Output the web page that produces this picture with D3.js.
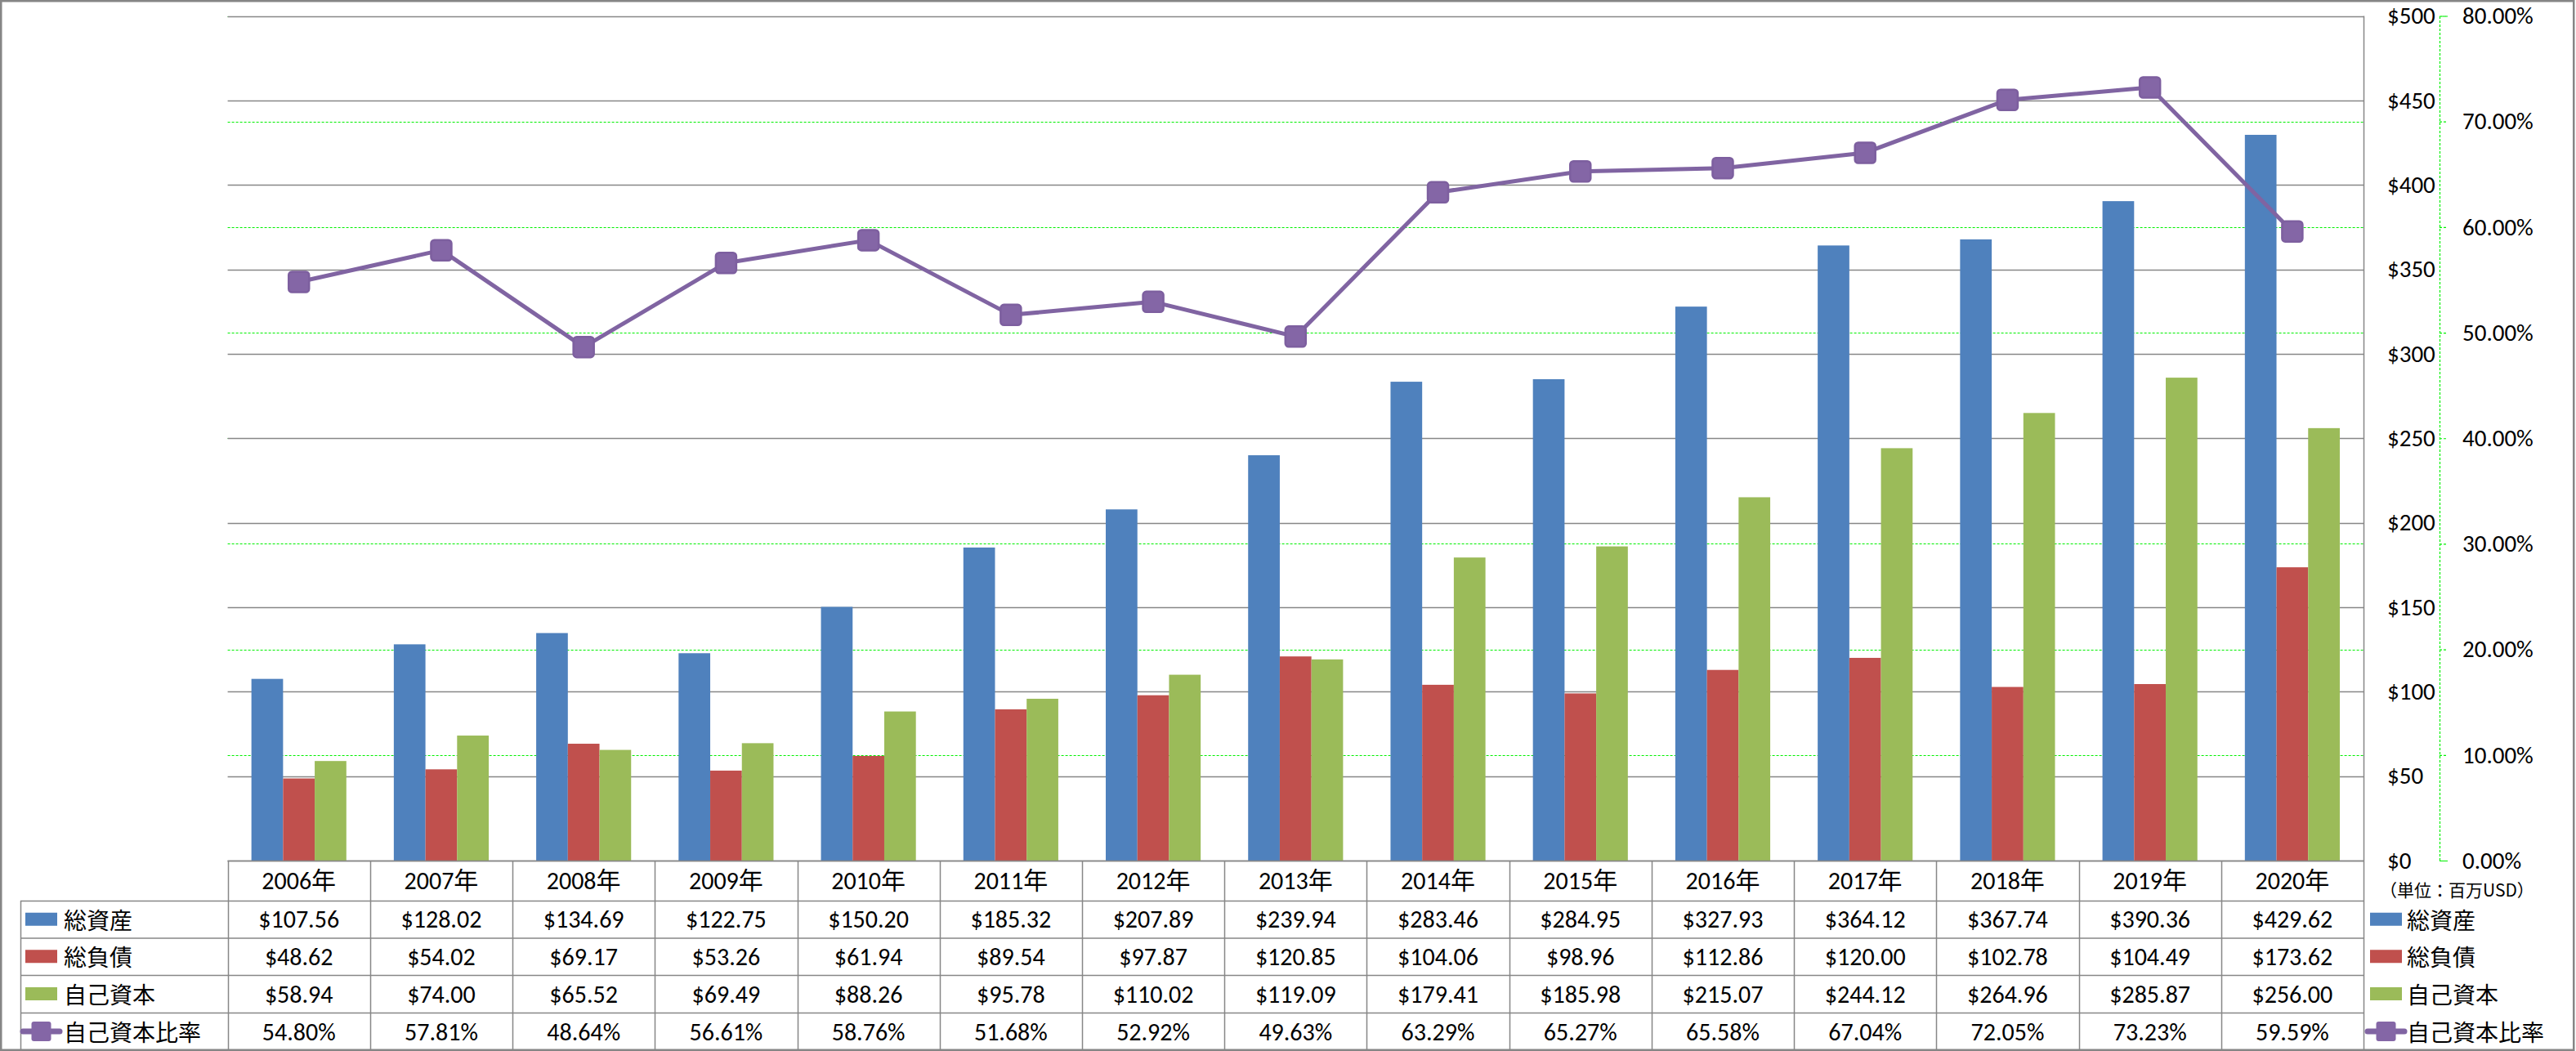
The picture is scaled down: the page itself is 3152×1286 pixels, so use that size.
<!DOCTYPE html>
<html>
<head>
<meta charset="utf-8">
<script src="https://cdn.jsdelivr.net/npm/d3@7"></script>
<style>
  html, body { margin: 0; padding: 0; background: #fff; }
  svg { display: block; }
  text { font-family: Carlito, Lato, "Noto Sans CJK JP", sans-serif; fill: #000; }
</style>
</head>
<body>
<svg id="chart" width="3152" height="1286"></svg>
<script>
// ---- data ----
const categories = ["2006年","2007年","2008年","2009年","2010年","2011年","2012年","2013年","2014年","2015年","2016年","2017年","2018年","2019年","2020年"];
const seriesNames = ["総資産","総負債","自己資本"];
const lineName = "自己資本比率";
const totalAssets = [107.56,128.02,134.69,122.75,150.20,185.32,207.89,239.94,283.46,284.95,327.93,364.12,367.74,390.36,429.62];
const totalLiabilities = [48.62,54.02,69.17,53.26,61.94,89.54,97.87,120.85,104.06,98.96,112.86,120.00,102.78,104.49,173.62];
const equity = [58.94,74.00,65.52,69.49,88.26,95.78,110.02,119.09,179.41,185.98,215.07,244.12,264.96,285.87,256.00];
const equityRatio = [54.80,57.81,48.64,56.61,58.76,51.68,52.92,49.63,63.29,65.27,65.58,67.04,72.05,73.23,59.59];
const yTicks = [0,50,100,150,200,250,300,350,400,450,500];
const y2Ticks = [0,10,20,30,40,50,60,70,80];
const unitLabel = "（単位：百万USD）";

// ---- styles ----
const colors = ["#4F81BD","#C0504D","#9BBB59"];
const lineColor = "#8064A2";
const gridGray = "#878787";

const svg = d3.select("#chart");
const W = 3152, H = 1286;
const plot = {left: 278.6, right: 2892, top: 19.5, bottom: 1053};
const rowY = [1053, 1102, 1147.5, 1193, 1239, 1285];

svg.append("rect").attr("width", W).attr("height", H).attr("fill", "#fff");

const x = d3.scaleBand().domain(categories).range([plot.left, plot.right]).paddingInner(0).paddingOuter(0);
const xs = d3.scaleBand().domain(seriesNames).range([0, x.bandwidth()]).paddingInner(0).paddingOuter(0.75);
const y = d3.scaleLinear().domain([0, 500]).range([plot.bottom, plot.top]);
const y2 = d3.scaleLinear().domain([0, 80]).range([plot.bottom, plot.top]);

// green dashed secondary gridlines
svg.append("g").selectAll("line").data(y2Ticks.filter(d => d > 0)).join("line")
  .attr("x1", plot.left).attr("x2", plot.right)
  .attr("y1", d => Math.round(y2(d)) + 0.5).attr("y2", d => Math.round(y2(d)) + 0.5)
  .attr("stroke", "#00F000").attr("stroke-width", 1.2).attr("stroke-dasharray", "3,2");

// gray primary gridlines
svg.append("g").selectAll("line").data(yTicks).join("line")
  .attr("x1", plot.left).attr("x2", plot.right)
  .attr("y1", d => Math.round(y(d)) + 0.5).attr("y2", d => Math.round(y(d)) + 0.5)
  .attr("stroke", gridGray).attr("stroke-width", 1.3);

// bars
const seriesData = [totalAssets, totalLiabilities, equity];
seriesData.forEach((arr, si) => {
  svg.append("g").selectAll("rect").data(arr).join("rect")
    .attr("x", (d, i) => x(categories[i]) + xs(seriesNames[si]))
    .attr("width", xs.bandwidth())
    .attr("y", d => y(d))
    .attr("height", d => y(0) - y(d))
    .attr("fill", colors[si]);
});

// primary axis (labels on right, left aligned)
const axisY = svg.append("g").attr("transform", `translate(${plot.right},0)`)
  .call(d3.axisRight(y).tickValues(yTicks).tickSize(0).tickPadding(29).tickFormat(d => "$" + d));
axisY.select(".domain").remove();
axisY.selectAll("text").style("font-size", "29px").style("font-family", "Carlito, Lato, sans-serif").attr("fill", "#000");

// secondary axis
const axX2 = 2985;
const axisY2 = svg.append("g").attr("transform", `translate(${axX2},0)`)
  .call(d3.axisRight(y2).tickValues(y2Ticks).tickSize(10).tickPadding(18).tickFormat(d => d.toFixed(2) + "%"));
axisY2.select(".domain").attr("stroke", "#00F000").attr("stroke-width", 1.2).attr("stroke-dasharray", "3,2");
axisY2.selectAll(".tick line").attr("stroke", "#00F000").attr("stroke-width", 1.2).attr("stroke-dasharray", "3,2");
axisY2.selectAll("text").style("font-size", "29px").style("font-family", "Carlito, Lato, sans-serif").attr("fill", "#000");

// line + markers
const line = d3.line().x((d, i) => x(categories[i]) + x.bandwidth() / 2).y(d => y2(d));
svg.append("path").datum(equityRatio).attr("d", line)
  .attr("fill", "none").attr("stroke", lineColor).attr("stroke-width", 5).attr("stroke-linejoin", "round");
const ms = 25;
svg.append("g").selectAll("rect").data(equityRatio).join("rect")
  .attr("x", (d, i) => x(categories[i]) + x.bandwidth() / 2 - ms / 2)
  .attr("y", d => y2(d) - ms / 2)
  .attr("width", ms).attr("height", ms).attr("rx", 4)
  .attr("fill", "#8466A6").attr("stroke", "#7D5F9F").attr("stroke-width", 2.5);

// ---- data table ----
const tbl = svg.append("g");
tbl.append("line").attr("x1", plot.left).attr("x2", plot.right).attr("y1", rowY[0] + 0.5).attr("y2", rowY[0] + 0.5)
  .attr("stroke", gridGray).attr("stroke-width", 1.5);
rowY.slice(1).forEach(ry => {
  tbl.append("line").attr("x1", 25).attr("x2", plot.right).attr("y1", ry + 0.5).attr("y2", ry + 0.5)
    .attr("stroke", gridGray).attr("stroke-width", 1.5);
});
const colEdges = categories.map(c => x(c)).concat([plot.right]);
tbl.selectAll("line.v").data(colEdges).join("line").attr("class", "v")
  .attr("x1", d => Math.round(d) + 0.5).attr("x2", d => Math.round(d) + 0.5)
  .attr("y1", rowY[0]).attr("y2", rowY[5]).attr("stroke", gridGray).attr("stroke-width", 1.5);
tbl.append("line").attr("x1", plot.right + 0.5).attr("x2", plot.right + 0.5).attr("y1", plot.top).attr("y2", rowY[0])
  .attr("stroke", gridGray).attr("stroke-width", 1.5);
tbl.append("line").attr("x1", 25.5).attr("x2", 25.5).attr("y1", rowY[1]).attr("y2", rowY[5])
  .attr("stroke", gridGray).attr("stroke-width", 1.5);

// header labels
tbl.selectAll("text.hdr").data(categories).join("text").attr("class", "hdr")
  .attr("x", d => x(d) + x.bandwidth() / 2).attr("y", (rowY[0] + rowY[1]) / 2)
  .attr("text-anchor", "middle").attr("dominant-baseline", "central")
  .style("font-size", "30px").text(d => d);

const rowsData = [
  totalAssets.map(v => "$" + v.toFixed(2)),
  totalLiabilities.map(v => "$" + v.toFixed(2)),
  equity.map(v => "$" + v.toFixed(2)),
  equityRatio.map(v => v.toFixed(2) + "%")
];
rowsData.forEach((row, ri) => {
  const cy = (rowY[ri + 1] + rowY[ri + 2]) / 2;
  tbl.append("g").selectAll("text").data(row).join("text")
    .attr("x", (d, i) => x(categories[i]) + x.bandwidth() / 2).attr("y", cy)
    .attr("text-anchor", "middle").attr("dominant-baseline", "central")
    .style("font-size", "30px").text(d => d);
});

// legend keys in table (left) and at right
const legendNames = seriesNames.concat([lineName]);
function drawKey(g, i, kx, cy) {
  if (i < 3) {
    g.append("rect").attr("x", kx).attr("y", cy - 8).attr("width", 39).attr("height", 16).attr("fill", colors[i]);
  } else {
    g.append("line").attr("x1", kx - 3).attr("x2", kx + 42).attr("y1", cy).attr("y2", cy)
      .attr("stroke", lineColor).attr("stroke-width", 7).attr("stroke-linecap", "round");
    g.append("rect").attr("x", kx + 7.5).attr("y", cy - 12).attr("width", 24).attr("height", 24).attr("rx", 3)
      .attr("fill", "#8466A6");
  }
}
legendNames.forEach((name, i) => {
  const cy = (rowY[i + 1] + rowY[i + 2]) / 2;
  drawKey(tbl, i, 31, cy);
  tbl.append("text").attr("x", 78).attr("y", cy).attr("dominant-baseline", "central")
    .style("font-family", "'Noto Sans CJK JP', sans-serif").style("font-size", "28px").text(name);
  drawKey(svg, i, 2900, cy);
  svg.append("text").attr("x", 2945).attr("y", cy).attr("dominant-baseline", "central")
    .style("font-family", "'Noto Sans CJK JP', sans-serif").style("font-size", "28px").text(name);
});

// unit label
svg.append("text").attr("x", 2912).attr("y", 1088).attr("dominant-baseline", "central")
  .style("font-family", "'Noto Sans CJK JP', sans-serif").style("font-size", "21px").text(unitLabel);

// outer border
svg.append("rect").attr("x", 1.25).attr("y", 1.25).attr("width", W - 4).attr("height", H - 2.5)
  .attr("fill", "none").attr("stroke", "#868686").attr("stroke-width", 2.5);
</script>
</body>
</html>
